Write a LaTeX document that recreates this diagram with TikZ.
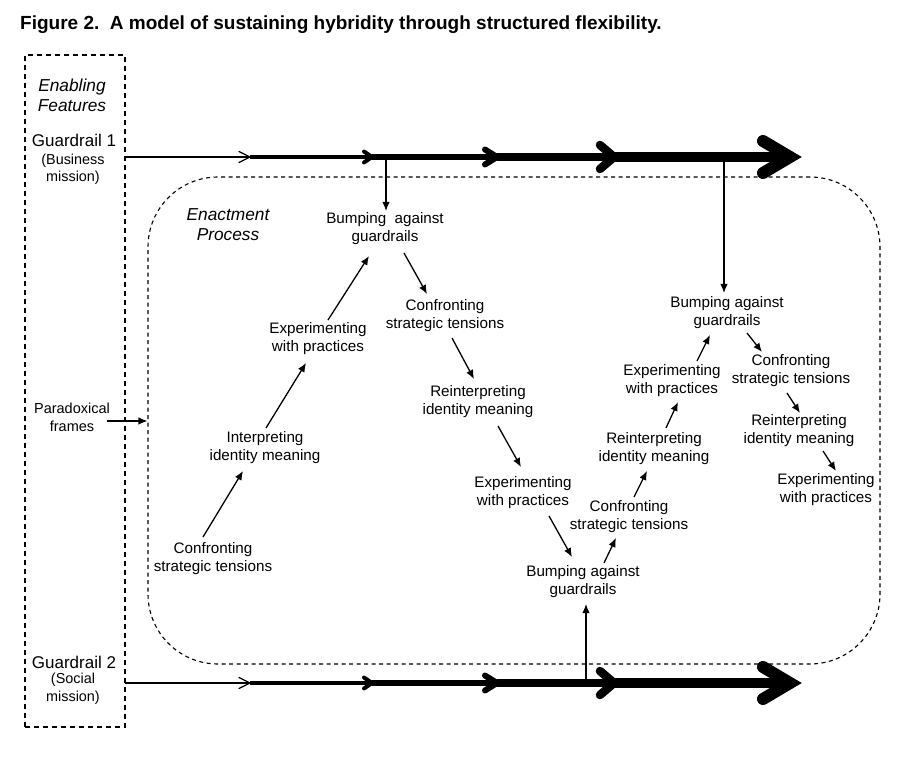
\documentclass[tikz,border=0pt]{standalone}
\usepackage{fontspec}
\setmainfont{Liberation Sans}
\usetikzlibrary{calc,arrows.meta}
\newcommand{\grhead}[4]{\draw[line width=#2, line cap=round, line join=miter] ($(#1)+(-#3,-#4)$) -- (#1) -- ($(#1)+(-#3,#4)$);}
\begin{document}
\begin{tikzpicture}[x=1pt,y=-1pt,
  txt/.style={font=\fontsize{15.2}{18}\selectfont, align=center, inner sep=0pt},
  ital/.style={font=\fontsize{17.3}{20}\selectfont\itshape, align=center, inner sep=0pt},
  arr/.style={-{Latex[length=9pt,width=7.5pt]}, line width=1.3pt},
  box/.style={draw, dash pattern=on 5pt off 4pt, line width=1.2pt, inner sep=0pt},
  enact/.style={draw, dash pattern=on 4pt off 3.5pt, line width=1.1pt, rounded corners=70pt, inner sep=0pt}]
\useasboundingbox (0,0) rectangle (908,759);

% title
\node[anchor=west, inner sep=0pt, font=\fontsize{19}{22}\selectfont\bfseries] (title) at (20,25)
  {Figure 2.\ \ A model of sustaining hybridity through structured flexibility.};

% frames
\node[box, minimum width=100pt, minimum height=672pt] (EF) at (75,391) {};
\node[enact, minimum width=732pt, minimum height=487pt] (EP) at (514,420.5) {};

% left labels
\node[ital] (enab) at (72,95) {Enabling\\Features};
\node[inner sep=0pt, font=\fontsize{17}{18}\selectfont] (G1) at (74,140) {Guardrail 1};
\node[inner sep=0pt, align=center, font=\fontsize{14.4}{17.5}\selectfont] (G1s) at (73,169.5) {(Business\\mission)};
\node[inner sep=0pt, font=\fontsize{17}{18}\selectfont] (G2) at (74,662) {Guardrail 2};
\node[inner sep=0pt, align=center, font=\fontsize{14.4}{17.5}\selectfont] (G2s) at (73,689) {(Social\\mission)};
\node[txt, font=\fontsize{14.5}{18}\selectfont] (P) at (72,417) {Paradoxical\\frames};
\node[ital] (enp) at (228,225) {Enactment\\Process};

% process nodes
\node[txt] (CS0) at (213,559) {Confronting\\strategic tensions};
\node[txt] (I0) at (265,448) {Interpreting\\identity meaning};
\node[txt] (E0) at (318,339) {Experimenting\\with practices};
\node[txt] (B1) at (385,229) {Bumping\ \ against\\guardrails};
\node[txt] (C1) at (445,316) {Confronting\\strategic tensions};
\node[txt] (R1) at (478,402) {Reinterpreting\\identity meaning};
\node[txt] (E1) at (523,493) {Experimenting\\with practices};
\node[txt] (B2) at (583,582) {Bumping against\\guardrails};
\node[txt] (C2) at (629,517) {Confronting\\strategic tensions};
\node[txt] (R2) at (654,449) {Reinterpreting\\identity meaning};
\node[txt] (E2) at (672,381) {Experimenting\\with practices};
\node[txt] (B3) at (727,313) {Bumping against\\guardrails};
\node[txt] (C3) at (791,371) {Confronting\\strategic tensions};
\node[txt] (R3) at (799,431) {Reinterpreting\\identity meaning};
\node[txt] (E3) at (826,490) {Experimenting\\with practices};

% process arrows
\draw[arr] ($(CS0)+(-10,-22)$) -- ($(I0)+(-22,23)$);
\draw[arr] ($(I0)+(1,-20)$) -- ($(E0)+(-12,24)$);
\draw[arr] ($(E0)+(10,-19)$) -- ($(B1)+(-16,27)$);
\draw[arr] ($(B1)+(19,24)$) -- ($(C1)+(-18,-22)$);
\draw[arr] ($(C1)+(7,22)$) -- ($(R1)+(-4,-23)$);
\draw[arr] ($(R1)+(20,24)$) -- ($(E1)+(-2,-26)$);
\draw[arr] ($(E1)+(26,23)$) -- ($(B2)+(-11,-25)$);
\draw[arr] ($(B2)+(21,-19)$) -- ($(C2)+(-13,21)$);
\draw[arr] ($(C2)+(5,-20)$) -- ($(R2)+(-7,22)$);
\draw[arr] ($(R2)+(12,-21)$) -- ($(E2)+(6,21)$);
\draw[arr] ($(E2)+(25,-20)$) -- ($(B3)+(-17,22)$);
\draw[arr] ($(B3)+(20,20)$) -- ($(C3)+(-29,-19)$);
\draw[arr] ($(C3)+(-4,22)$) -- ($(R3)+(1,-18)$);
\draw[arr] ($(R3)+(24,20)$) -- ($(E3)+(10,-19)$);

% paradoxical frames arrow
\coordinate (pa) at ($(P.east)+(-3,4)$);
\draw[arr] (pa) -- (pa -| EP.west);

% guardrail 1
\coordinate (g1a) at (125,157);
\coordinate (g1b) at (250,157);
\coordinate (g1c) at (372,157);
\coordinate (g1d) at (497,157);
\coordinate (g1e) at (614,157);
\coordinate (g1f) at (790,157);
% guardrail 2
\coordinate (g2a) at (125,683);
\coordinate (g2b) at (250,683);
\coordinate (g2c) at (372,683);
\coordinate (g2d) at (497,683);
\coordinate (g2e) at (614,683);
\coordinate (g2f) at (790,683);

\foreach \g in {g1,g2}{
  \draw[line width=1.3pt] (\g a) -- (\g b);
  \draw[line width=4pt] (\g b) -- (\g c);
  \draw[line width=6pt] (\g c) -- (\g d);
  \draw[line width=8.5pt] (\g d) -- (\g e);
  \draw[line width=10.5pt] (\g e) -- (\g f);
  \grhead{\g b}{1.3pt}{11}{5.5}
  \grhead{\g c}{4pt}{8}{5.5}
  \grhead{\g d}{6pt}{12}{7.5}
  \grhead{\g e}{8.5pt}{14}{12}
  \grhead{\g f}{12pt}{27}{16}
}

% drops from guardrails
\coordinate (d1) at (386,157);
\coordinate (t1) at ($(B1)+(0,-18)$);
\draw[arr] (d1) -- (d1 |- t1);
\coordinate (d2) at (724,157);
\coordinate (t2) at ($(B3)+(0,-20)$);
\draw[arr] (d2) -- (d2 |- t2);
\coordinate (d3) at (586,683);
\coordinate (t3) at ($(B2)+(0,22)$);
\draw[arr] (d3) -- (d3 |- t3);
\end{tikzpicture}
\end{document}
